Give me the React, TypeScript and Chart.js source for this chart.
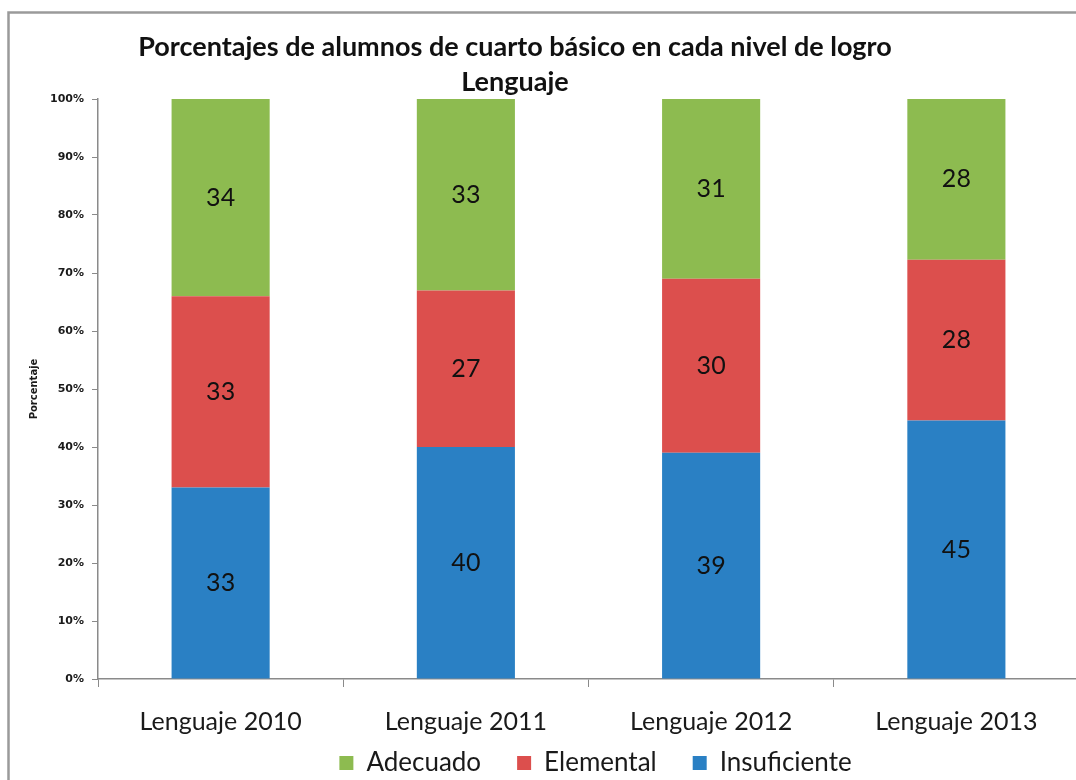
import React, { useEffect, useRef } from "react";
import { Chart, registerables } from "chart.js";

Chart.register(...registerables);

const categories = ["Lenguaje 2010", "Lenguaje 2011", "Lenguaje 2012", "Lenguaje 2013"];
const insuficiente = [33, 40, 39, 45];
const elemental = [33, 27, 30, 28];
const adecuado = [34, 33, 31, 28];
const seriesNames = ["Insuficiente", "Elemental", "Adecuado"];
const seriesColors = ["#2A80C4", "#DC4F4D", "#8DBB50"];
const yTickLabels = ["0%", "10%", "20%", "30%", "40%", "50%", "60%", "70%", "80%", "90%", "100%"];
const titleLines = ["Porcentajes de alumnos de cuarto básico en cada nivel de logro", "Lenguaje"];
const yAxisTitle = "Porcentaje";

const FONT = "Lato, 'DejaVu Sans', sans-serif";

const totals = categories.map((_, i) => insuficiente[i] + elemental[i] + adecuado[i]);
const toPct = (arr: number[]) => arr.map((v, i) => (v / totals[i]) * 100);

const titlePlugin = {
  id: "titleAndFrame",
  afterLayout(chart: any) {
    // let x labels extend below the (narrow) axis box so they are not clipped
    const x = chart.scales.x;
    x.bottom = x.top + 70;
    // centre legend under the plot area rather than the whole canvas
    const lg = chart.legend;
    if (lg) {
      lg.left += 56;
      lg.right += 56;
    }
  },
  afterDraw(chart: any) {
    const ctx = chart.ctx;
    ctx.save();
    ctx.strokeStyle = "#9a9a9a";
    ctx.lineWidth = 2.5;
    ctx.beginPath();
    ctx.moveTo(8.5, 790);
    ctx.lineTo(8.5, 12.5);
    ctx.lineTo(1090, 12.5);
    ctx.stroke();
    ctx.fillStyle = "#111";
    ctx.font = "bold 27px " + FONT;
    ctx.textAlign = "center";
    ctx.textBaseline = "middle";
    ctx.fillText(titleLines[0], 515, 47);
    ctx.fillText(titleLines[1], 515, 82);
    ctx.restore();
  },
};

const labelPlugin = {
  id: "segmentLabels",
  afterDatasetsDraw(chart: any) {
    const ctx = chart.ctx;
    const raws = [insuficiente, elemental, adecuado];
    ctx.save();
    ctx.fillStyle = "#111";
    ctx.font = "25px " + FONT;
    ctx.textAlign = "center";
    ctx.textBaseline = "middle";
    chart.data.datasets.forEach((ds: any, di: number) => {
      const meta = chart.getDatasetMeta(di);
      meta.data.forEach((bar: any, i: number) => {
        const cy = (bar.y + bar.base) / 2;
        ctx.fillText(String(raws[di][i]), bar.x, cy);
      });
    });
    ctx.restore();
  },
};

export default function App() {
  const ref = useRef<HTMLCanvasElement | null>(null);
  useEffect(() => {
    if (!ref.current) return;
    const values = [insuficiente, elemental, adecuado];
    const chart = new Chart(ref.current, {
      type: "bar",
      data: {
        labels: categories,
        datasets: seriesNames.map((name, i) => ({
          label: name,
          data: toPct(values[i]),
          backgroundColor: seriesColors[i],
          borderWidth: 0,
          categoryPercentage: 1,
          barPercentage: 0.4,
        })),
      },
      options: {
        responsive: false,
        animation: false,
        devicePixelRatio: 1,
        layout: { padding: { top: 99, left: 0, right: 1, bottom: -6 } },
        plugins: {
          title: { display: false },
          tooltip: { enabled: false },
          legend: {
            position: "bottom",
            reverse: true,
            labels: {
              font: { family: FONT, size: 26 },
              color: "#1a1a1a",
              boxWidth: 14,
              boxHeight: 14,
              padding: 36,
            },
          },
        },
        scales: {
          x: {
            stacked: true,
            afterFit: (s: any) => {
              s.height = 35;
            },
            grid: {
              display: true,
              drawOnChartArea: false,
              drawTicks: true,
              tickLength: 8,
              color: "#8a8a8a",
              offset: true,
            },
            border: { display: true, color: "#8a8a8a", width: 1.5 },
            ticks: {
              font: { family: FONT, size: 25 },
              color: "#1a1a1a",
              padding: 20,
              maxRotation: 0,
              autoSkip: false,
            },
          },
          y: {
            stacked: true,
            min: 0,
            max: 100,
            afterFit: (s: any) => {
              s.width = 98;
            },
            grid: {
              display: true,
              drawOnChartArea: false,
              drawTicks: true,
              tickLength: 6,
              color: "#8a8a8a",
            },
            border: { display: true, color: "#8a8a8a", width: 1.5 },
            ticks: {
              stepSize: 10,
              font: { family: "'DejaVu Sans', sans-serif", size: 11, weight: "bold" },
              color: "#1a1a1a",
              padding: 8,
              callback: (v: any) => yTickLabels[Math.round(Number(v) / 10)],
            },
            title: {
              display: true,
              text: yAxisTitle,
              font: { family: "'DejaVu Sans', sans-serif", size: 10, weight: "bold" },
              color: "#1a1a1a",
              padding: { top: 28, bottom: 0 },
            },
          },
        },
      },
      plugins: [titlePlugin, labelPlugin],
    });
    return () => chart.destroy();
  }, []);

  return (
    <div
      style={{
        position: "fixed",
        left: 0,
        top: 0,
        width: 1076,
        height: 780,
        overflow: "hidden",
        background: "#fff",
      }}
    >
      <canvas ref={ref} width={1080} height={780} style={{ display: "block", width: 1080, height: 780 }} />
    </div>
  );
}
